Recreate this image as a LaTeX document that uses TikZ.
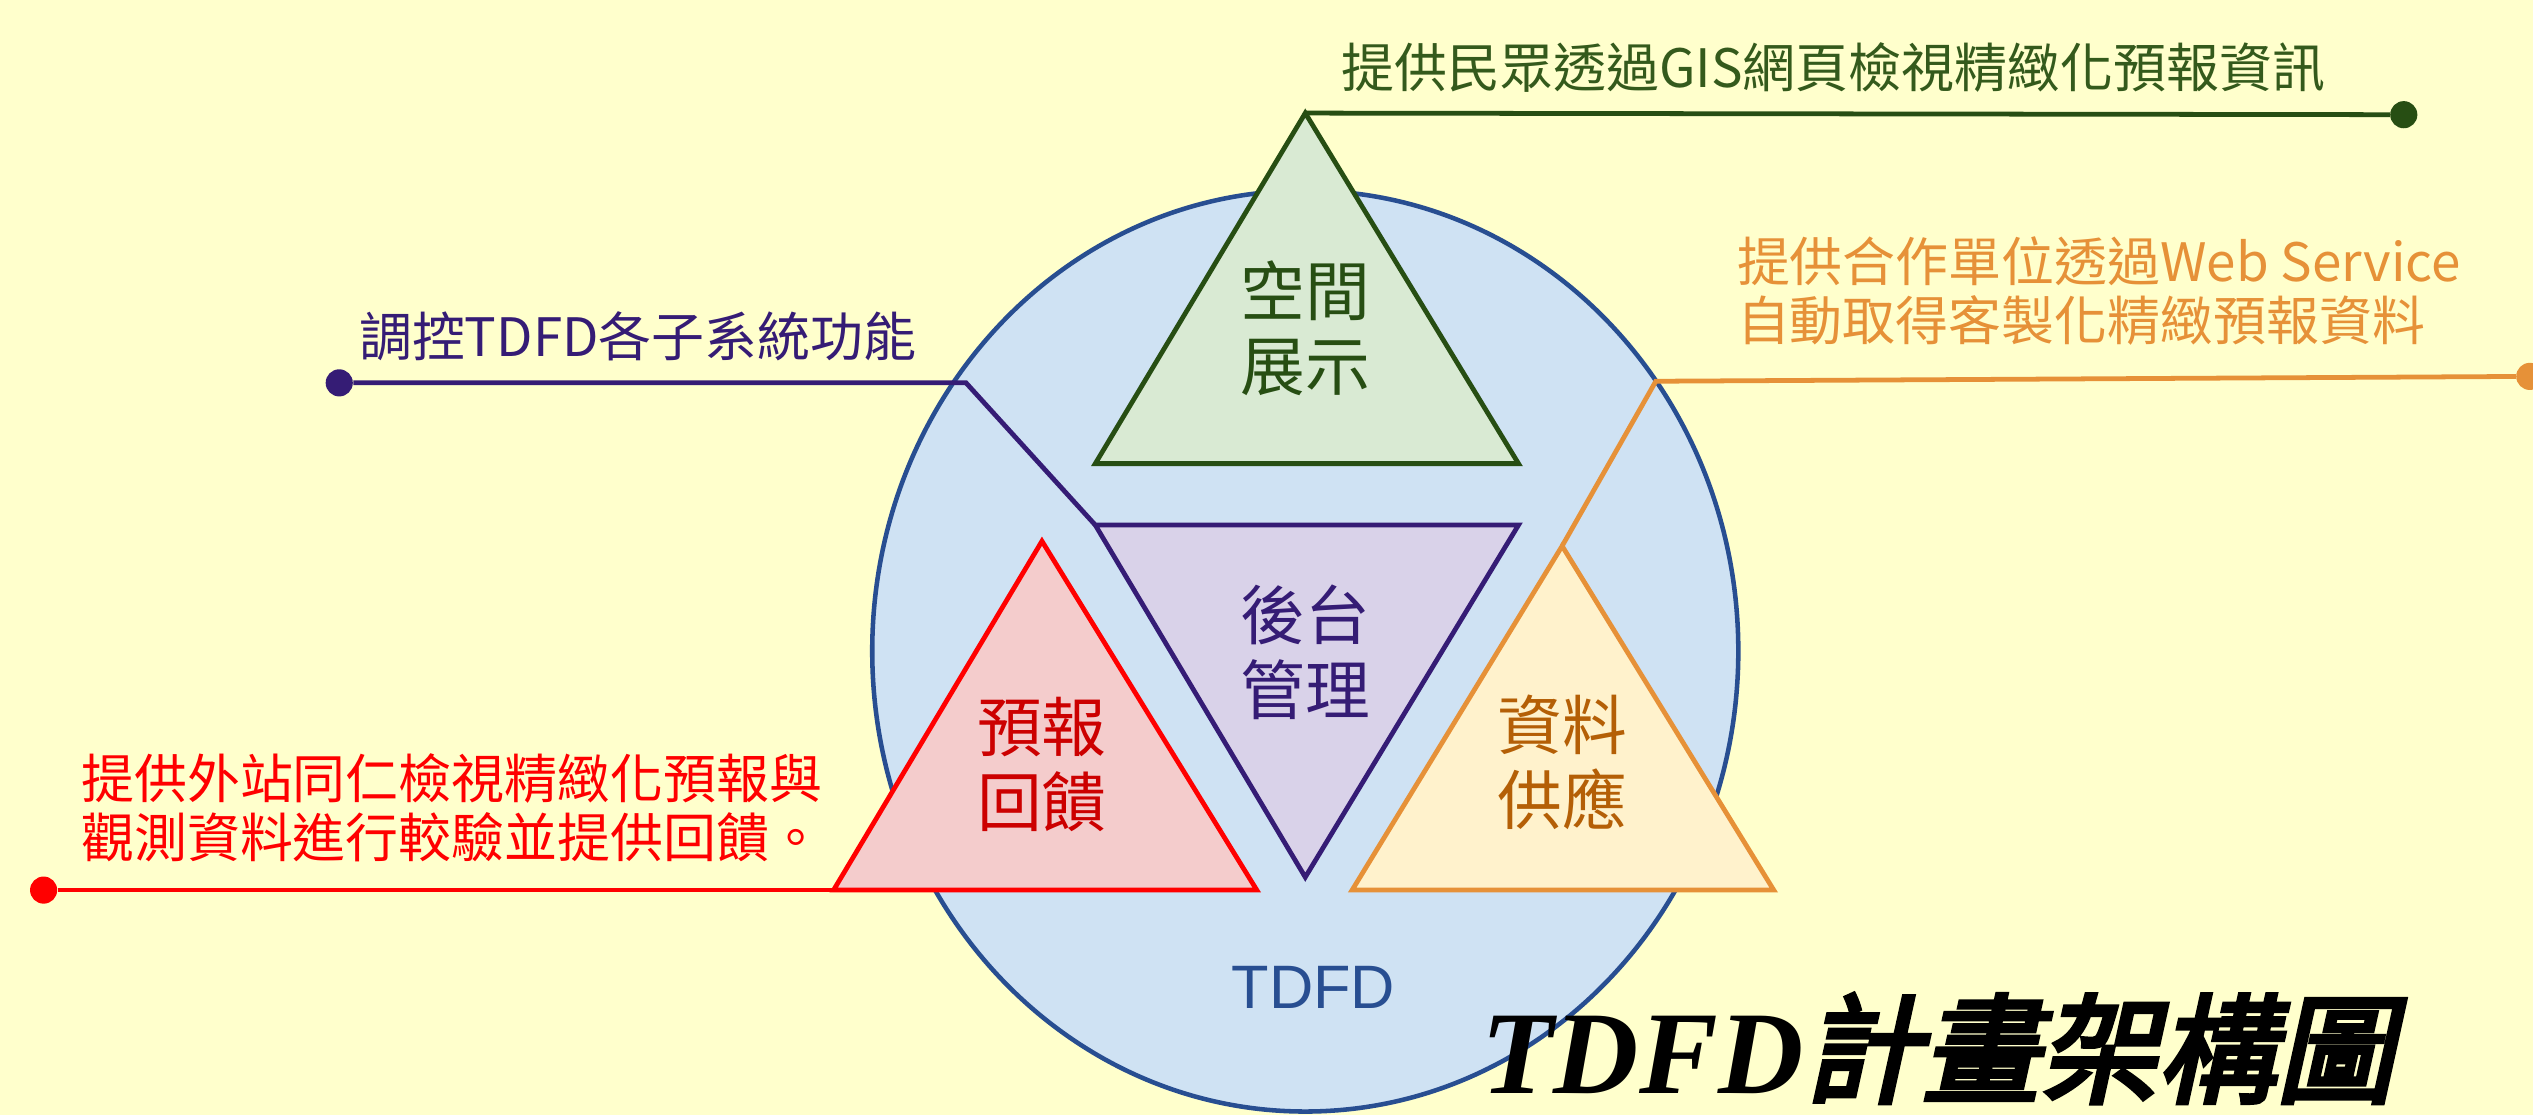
\documentclass[tikz,border=0pt]{standalone}
\usepackage{fontspec}
\usetikzlibrary{shapes.geometric}
\setmainfont{Liberation Sans}
\newfontfamily\cjk{Noto Sans CJK TC}
\newfontfamily\titlecjk[FakeSlant=0.22,FakeBold=4]{Noto Sans CJK TC}
\newfontfamily\titlelat{Liberation Serif}
\definecolor{bgc}{RGB}{255,255,204}
\definecolor{ellfill}{RGB}{207,226,243}
\definecolor{ellline}{RGB}{40,78,145}
\definecolor{gline}{RGB}{39,78,19}
\definecolor{gfill}{RGB}{217,234,211}
\definecolor{gtext}{RGB}{52,90,28}
\definecolor{pline}{RGB}{53,28,117}
\definecolor{pfill}{RGB}{217,210,233}
\definecolor{rline}{RGB}{255,0,0}
\definecolor{rfill}{RGB}{244,204,204}
\definecolor{rlbl}{RGB}{204,0,0}
\definecolor{oline}{RGB}{230,145,56}
\definecolor{ofill}{RGB}{255,242,204}
\definecolor{olbl}{RGB}{180,95,6}
\begin{document}
\begin{tikzpicture}[x=0.025cm,y=-0.025cm,
  desc/.style={font=\cjk\fontsize{23.3}{26}\selectfont, inner sep=0pt, align=left},
  lbl/.style={font=\cjk\fontsize{28.5}{33}\selectfont, inner sep=0pt, align=center},
  tri/.style={line width=2.1pt, line join=miter},
  conn/.style={line width=2.1pt},
  dotmark/.style={circle, inner sep=0pt, minimum size=0.42cm}]
\useasboundingbox (0,0) rectangle (1568,690);
\clip (0,0) rectangle (1568,690);
\fill[bgc] (0,0) rectangle (1568,690);
% main ellipse
\node[ellipse, draw=ellline, fill=ellfill, line width=2pt, minimum width=13.4cm, minimum height=14.25cm, inner sep=0pt] (ell) at (808,403) {};
% triangle corners
\coordinate (gT) at (808,70);
\coordinate (gL) at (678,287);
\coordinate (gR) at (940,287);
\coordinate (pL) at (678,325);
\coordinate (pR) at (940,325);
\coordinate (pB) at (808,543);
\coordinate (rT) at (645,335);
\coordinate (rL) at (516,551);
\coordinate (rR) at (778,551);
\coordinate (oT) at (967,338);
\coordinate (oL) at (837,551);
\coordinate (oR) at (1098,551);
\coordinate (pbend) at (598,237);
\coordinate (obend) at (1025,236);
% end dots
\node[dotmark, fill=gline] (gdot) at (1488,71) {};
\node[dotmark, fill=pline] (pdot) at (210,237) {};
\node[dotmark, fill=rline] (rdot) at (27,551) {};
\node[dotmark, fill=oline] (odot) at (1566,233) {};
% connectors
\draw[conn, draw=gline] (gT) -- (gdot);
\draw[conn, draw=pline] (pdot) -- (pbend) -- (pL);
\draw[conn, draw=rline] (rdot) -- (rL);
\draw[conn, draw=oline] (oT) -- (obend) -- (odot);
% triangles
\draw[tri, draw=gline, fill=gfill] (gT) -- (gL) -- (gR) -- cycle;
\draw[tri, draw=pline, fill=pfill] (pL) -- (pR) -- (pB) -- cycle;
\draw[tri, draw=rline, fill=rfill] (rT) -- (rL) -- (rR) -- cycle;
\draw[tri, draw=oline, fill=ofill] (oT) -- (oL) -- (oR) -- cycle;
% triangle labels
\node[lbl, text=gline] (glbl) at (808,203) {空間\\展示};
\node[lbl, text=pline] (plbl) at (808,404) {後台\\管理};
\node[lbl, text=rlbl] (rlbltxt) at (645,473) {預報\\回饋};
\node[lbl, text=olbl] (olbltxt) at (967,472) {資料\\供應};
\node[font=\fontsize{27}{30}\selectfont, text=ellline, inner sep=0pt] (tdfd) at (813,611) {TDFD};
% descriptions
\node[desc, text=gtext] (gdesc) at (1135,42) {提供民眾透過GIS網頁檢視精緻化預報資訊};
\node[desc, text=pline, anchor=west] (pdesc) at (222,208) {調控TDFD各子系統功能};
\node[desc, text=oline, anchor=west] (odesc) at (1075,180) {提供合作單位透過Web Service\\自動取得客製化精緻預報資料};
\node[desc, text=rline, anchor=west] (rdesc) at (50,500) {提供外站同仁檢視精緻化預報與\\觀測資料進行較驗並提供回饋。};
% title
\node[anchor=base west, inner sep=0pt] (title) at (917,677) {\fontsize{52}{56}\selectfont\titlelat\bfseries\itshape TDFD\titlecjk\mdseries\upshape 計畫架構圖};
\end{tikzpicture}
\end{document}
